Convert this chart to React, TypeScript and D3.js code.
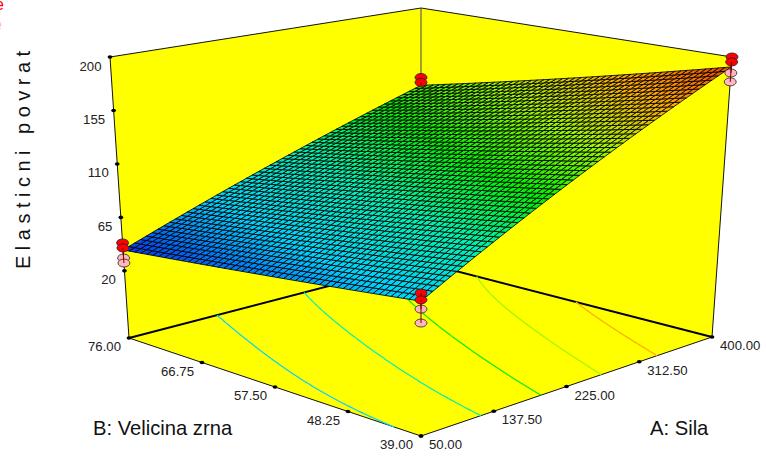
import React from "react";
import * as d3 from "d3";

const aTicks = [50, 137.5, 225, 312.5, 400];
const bTicks = [39, 48.25, 57.5, 66.75, 76];
const zTicks = [20, 65, 110, 155, 200];
const aLabels = ["50.00", "137.50", "225.00", "312.50", "400.00"];
const bLabels = ["39.00", "48.25", "57.50", "66.75", "76.00"];

// response read from the surface, rows by B, columns by A
const zAtB39 = [66, 97.4, 128.8, 160.2, 191.6];
const zAtB48 = [58.9, 88.1, 117.3, 146.5, 175.7];
const zAtB57 = [51.8, 78.8, 105.8, 132.8, 159.8];
const zAtB66 = [44.7, 69.5, 94.3, 119.1, 143.9];
const zAtB76 = [37.6, 60.2, 82.8, 105.4, 128];
const zTable = [zAtB39, zAtB48, zAtB57, zAtB66, zAtB76];

const floorB39 = [66, 129, 191.6];
const floorB57 = [56.6, 107, 166];
const floorB76 = [37.6, 83, 128];
const floorTable = [floorB39, floorB57, floorB76];

const contourLevels = [65, 92, 118, 144, 168];
const colorStops = [37, 65, 92, 118, 144, 168, 192];
const colorValues = ["#0032f0", "#00d2ff", "#00f0b4", "#00f000", "#a0f500", "#ffaa00", "#f04600"];

// design points: [A, B, z]
const pointsAbove: number[][] = [[50, 76, 43.5], [50, 76, 39.3], [50, 39, 72.2], [50, 39, 67], [400, 76, 135.3], [400, 76, 130.7], [400, 39, 200], [400, 39, 195.8]];
const pointsBelow: number[][] = [[50, 76, 30.8], [50, 76, 26.6], [50, 39, 60], [50, 39, 49.4], [400, 39, 186.5], [400, 39, 179]];

// frame corners in [a=0,b=0], [a=1,b=0], [a=1,b=1], [a=0,b=1] order
const floorCorners = [[421, 436], [712, 337], [421, 262], [129, 338]];
const topCorners = [[421, 125], [732, 57], [421, 8], [110, 57]];
const zBottom = -36.5;
const zTop = 200;

const aScale = d3.scaleLinear().domain([50, 400]).range([0, 1]);
const bScale = d3.scaleLinear().domain([39, 76]).range([0, 1]);
const zScale = d3.scaleLinear().domain([zBottom, zTop]).range([0, 1]);
const color = d3.scaleLinear<string>().domain(colorStops).range(colorValues).interpolate(d3.interpolateRgb).clamp(true);

function bilinear(c: number[][], a: number, b: number) {
  return [0, 1].map(
    (k) => c[0][k] * (1 - a) * (1 - b) + c[1][k] * a * (1 - b) + c[2][k] * a * b + c[3][k] * (1 - a) * b
  );
}
function project(a: number, b: number, t: number): [number, number] {
  const f = bilinear(floorCorners, a, b);
  const u = bilinear(topCorners, a, b);
  return [f[0] + (u[0] - f[0]) * t, f[1] + (u[1] - f[1]) * t];
}
function tableAt(table: number[][], a: number, b: number) {
  const n = table.length - 1;
  const x = Math.min(a * n, n - 1e-9);
  const y = Math.min(b * n, n - 1e-9);
  const i = Math.floor(x);
  const j = Math.floor(y);
  const fx = x - i;
  const fy = y - j;
  return (
    table[j][i] * (1 - fx) * (1 - fy) +
    table[j][i + 1] * fx * (1 - fy) +
    table[j + 1][i] * (1 - fx) * fy +
    table[j + 1][i + 1] * fx * fy
  );
}
// smooth reading through three values at 0, 0.5 and 1
function quad(v: number[], s: number) {
  return v[0] * 2 * (s - 0.5) * (s - 1) - v[1] * 4 * s * (s - 1) + v[2] * 2 * s * (s - 0.5);
}
const floorAt = (a: number, b: number) => quad(floorTable.map((row) => quad(row, a)), b);
const zAt = (a: number, b: number) => tableAt(zTable, a, b);

const DIV = 50;
const line = d3.line<[number, number]>();

function meshCells() {
  const cells: { d: string; fill: string }[] = [];
  for (let j = 0; j < DIV; j++) {
    for (let i = 0; i < DIV; i++) {
      const corners: [number, number][] = [[i, j], [i + 1, j], [i + 1, j + 1], [i, j + 1]];
      const pts = corners.map(([x, y]) => project(x / DIV, y / DIV, zScale(zAt(x / DIV, y / DIV))));
      const mid = zAt((i + 0.5) / DIV, (j + 0.5) / DIV);
      cells.push({ d: line(pts)! + "Z", fill: color(mid) });
    }
  }
  return cells;
}

function contourPaths() {
  const n = 121;
  const data: number[] = [];
  for (let y = 0; y < n; y++) for (let x = 0; x < n; x++) data.push(floorAt(x / (n - 1), y / (n - 1)));
  const gen = d3.contours().size([n, n]).thresholds(contourLevels);
  const out: { d: string; stroke: string }[] = [];
  gen(data).forEach((c) => {
    let d = "";
    c.coordinates.forEach((poly) =>
      poly.forEach((ring) => {
        let run: [number, number][] = [];
        const flush = () => {
          if (run.length > 1) d += line(run);
          run = [];
        };
        ring.forEach(([x, y]) => {
          const edge = x <= 0 || y <= 0 || x >= n || y >= n;
          if (edge) flush();
          else {
            const u = Math.max(0, Math.min(1, (x - 0.5) / (n - 1)));
            const v = Math.max(0, Math.min(1, (y - 0.5) / (n - 1)));
            run.push(project(u, v, 0));
          }
        });
        flush();
      })
    );
    out.push({ d, stroke: color(c.value) });
  });
  return out;
}

function Marker({ p, fill }: { p: number[]; fill: string }) {
  const a = aScale(p[0]);
  const b = bScale(p[1]);
  const [x, y] = project(a, b, zScale(p[2]));
  const [sx, sy] = project(a, b, zScale(zAt(a, b)));
  return (
    <g>
      <ellipse cx={x} cy={y} rx={6} ry={4} fill={fill} stroke="#222" strokeWidth={0.8} />
      <line x1={x} y1={y} x2={sx} y2={sy} stroke="#700" strokeWidth={1} />
    </g>
  );
}

const font = "'Liberation Sans', Arial, sans-serif";

export default function App() {
  const outline = [topCorners[3], topCorners[2], topCorners[1], floorCorners[1], floorCorners[0], floorCorners[3]];
  const dot = (x: number, y: number, k: string) => <ellipse key={k} cx={x} cy={y} rx={2.4} ry={1.8} fill="#000" />;
  return (
    <svg width={766} height={458} style={{ position: "absolute", left: 0, top: 0, background: "#fff" }} fontFamily={font}>
      <text x={-5} y={10} fontSize={16} fill="#ff0000">e</text>
      <text x={-7} y={30} fontSize={16} fill="#ffb6c1">e</text>
      <path d={line(outline as [number, number][])! + "Z"} fill="#ffff00" stroke="#111" strokeWidth={1} />
      <line x1={421} y1={8} x2={421} y2={262} stroke="#444" strokeWidth={1} />
      <path d={line([floorCorners[3], floorCorners[2], floorCorners[1]] as [number, number][])!} fill="none" stroke="#000" strokeWidth={2} />
      {contourPaths().map((c, i) => (
        <path key={i} d={c.d} fill="none" stroke={c.stroke} strokeWidth={1.2} />
      ))}
      {meshCells().map((c, i) => (
        <path key={i} d={c.d} fill={c.fill} stroke="#000" strokeWidth={0.85} />
      ))}
      {pointsBelow.map((p, i) => <Marker key={"b" + i} p={p} fill="#ffb6c1" />)}
      {pointsAbove.map((p, i) => <Marker key={"a" + i} p={p} fill="#ff0000" />)}
      {zTicks.map((z) => {
        const [x, y] = project(0, 1, zScale(z));
        return (
          <g key={z}>
            {dot(x, y, "d")}
            <text x={x - 8.5} y={y + 13.5} textAnchor="end" fontSize={13.2} fill="#222">{z}</text>
          </g>
        );
      })}
      {aTicks.map((v, i) => {
        const [x, y] = project(aScale(v), 0, 0);
        return (
          <g key={v}>
            {dot(x, y, "d")}
            <text x={x + 8} y={y + 13} fontSize={13.2} fill="#222">{aLabels[i]}</text>
          </g>
        );
      })}
      {bTicks.map((v, i) => {
        const [x, y] = project(0, bScale(v), 0);
        return (
          <g key={v}>
            {dot(x, y, "d")}
            <text x={x - 8} y={y + 13} textAnchor="end" fontSize={13.2} fill="#222">{bLabels[i]}</text>
          </g>
        );
      })}
      <text x={93} y={435} fontSize={20.2} fill="#111">B: Velicina zrna</text>
      <text x={650} y={435} fontSize={20.2} fill="#111">A: Sila</text>
      <text transform="translate(30,269) rotate(-90)" fontSize={20} letterSpacing={5.5} fill="#111">Elasticni povrat</text>
    </svg>
  );
}
